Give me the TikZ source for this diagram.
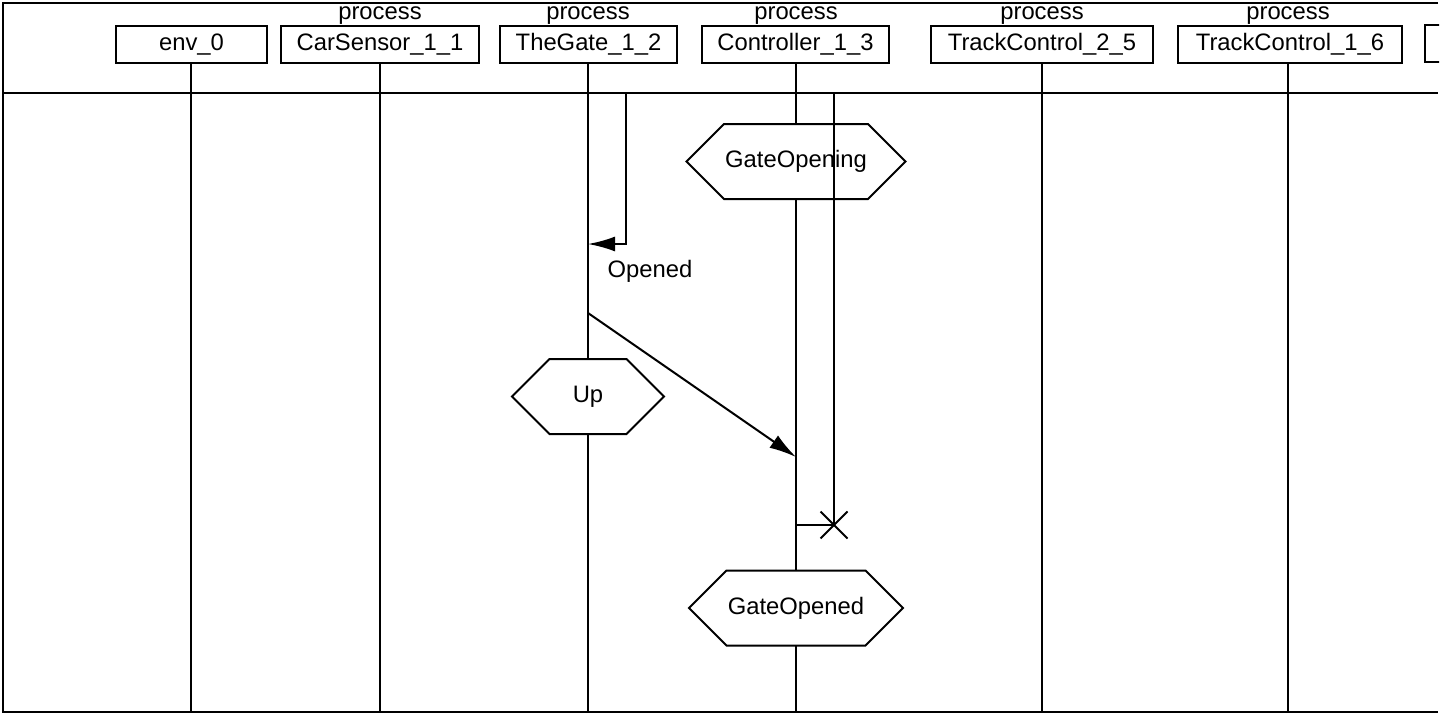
\documentclass[tikz,border=0pt]{standalone}
\usepackage{fontspec}
\setmainfont{Liberation Sans}
\usetikzlibrary{shapes.symbols,shapes.misc,arrows.meta}
\begin{document}
\begin{tikzpicture}[x=1pt,y=-1pt,line width=2pt,
  every node/.style={font=\fontsize{23.8}{28}\selectfont},
  procbox/.style={draw, minimum height=37pt, inner sep=0pt, anchor=north},
  proclabel/.style={inner sep=0pt},
  hexa/.style={draw, fill=white, shape=signal, signal to=east and west,
    signal pointer angle=90, minimum height=75pt, inner sep=0pt},
  msg/.style={-{Latex[length=27pt,width=15pt]}},
  crossmark/.style={draw, cross out, minimum size=25pt, inner sep=0pt}]
\useasboundingbox (0,0) rectangle (1450,715);
% frame
\draw (1438,3) -- (3,3) -- (3,712) -- (1438,712);
\draw (3,93) -- (1438,93);
% process boxes
\node[procbox, minimum width=151pt] (b0) at (191.5,25) {env\_0};
\node[procbox, minimum width=198pt] (b1) at (380,25) {CarSensor\_1\_1};
\node[procbox, minimum width=177pt] (b2) at (588.5,25) {TheGate\_1\_2};
\node[procbox, minimum width=187pt] (b3) at (795.5,25) {Controller\_1\_3};
\node[procbox, minimum width=222pt] (b5) at (1042,25) {TrackControl\_2\_5};
\node[procbox, minimum width=224pt] (b6) at (1290,25) {TrackControl\_1\_6};
\begin{scope}
  \clip (1400,0) rectangle (1439,100);
  \draw (1425,25) rectangle (1490,62);
\end{scope}
% process labels
\node[proclabel] (p1) at (380,16) {process};
\node[proclabel] (p2) at (588,16) {process};
\node[proclabel] (p3) at (796,16) {process};
\node[proclabel] (p5) at (1042,16) {process};
\node[proclabel] (p6) at (1288,16) {process};
% lifelines
\coordinate (e0) at (191,712);
\coordinate (e1) at (380,712);
\coordinate (e2) at (588,712);
\coordinate (e3) at (796,712);
\coordinate (e5) at (1042,712);
\coordinate (e6) at (1288,712);
\draw (b0.south -| e0) -- (e0);
\draw (b1.south -| e1) -- (e1);
\draw (b2.south -| e2) -- (e2);
\draw (b3.south -| e3) -- (e3);
\draw (b5.south -| e5) -- (e5);
\draw (b6.south -| e6) -- (e6);
% conditions
\node[hexa, minimum width=219pt] (h1) at (796,161.5) {GateOpening};
\node[hexa, minimum width=152pt] (h2) at (588,396.5) {Up};
\node[hexa, minimum width=214pt] (h3) at (796,608) {GateOpened};
% Opened (timeout) message
\coordinate (o1) at (626,93);
\coordinate (o2) at (626,244);
\coordinate (o3) at (588,244);
\draw[msg] (o1) -- (o2) -- (o3);
\node[inner sep=0pt] (ol) at (650,271) {Opened};
% message to controller
\coordinate (m1) at (588,313);
\coordinate (m2) at (796,457);
\draw[msg] (m1) -- (m2);
% timer
\coordinate (t0) at (834,93);
\coordinate (tx) at (834,525);
\coordinate (tc) at (796,525);
\draw (t0) -- (tx);
\draw (tc) -- (tx);
\node[crossmark] (tk) at (tx) {};
\end{tikzpicture}
\end{document}
